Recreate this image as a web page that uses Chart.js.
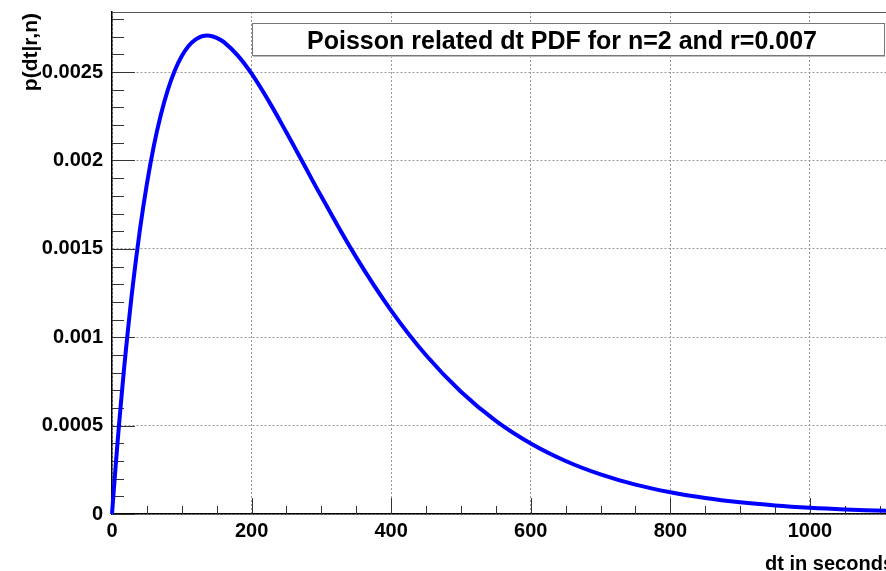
<!DOCTYPE html>
<html>
<head>
<meta charset="utf-8">
<script src="https://cdn.jsdelivr.net/npm/chart.js@4.4.0/dist/chart.umd.min.js"></script>
<style>
  html, body { margin: 0; padding: 0; background: #fff; }
  #wrap { width: 886px; height: 571px; }
</style>
</head>
<body>
<div id="wrap"><canvas id="pdfChart" width="886" height="571"></canvas></div>
<script>
    // values
    const dtSeconds = [0, 5, 10, 15, 20, 30, 40, 50, 60, 70, 80, 90, 100, 110, 120, 130, 140, 150, 160, 180, 200, 225, 250, 275, 300, 350, 400, 450, 500, 550, 600, 650, 700, 750, 800, 850, 900, 950, 1000, 1050, 1109];
    const pdfValues = [0, 0.00026, 0.000501, 0.000724, 0.000931, 0.001298, 0.001608, 0.001868, 0.002084, 0.002259, 0.002400, 0.002509, 0.002591, 0.002649, 0.002685, 0.002704, 0.002706, 0.002694, 0.002671, 0.002595, 0.002491, 0.002333, 0.002158, 0.001977, 0.001796, 0.001452, 0.001151, 0.000898, 0.000692, 0.000527, 0.000399, 0.000300, 0.000224, 0.000166, 0.000123, 0.0000906, 0.0000665, 0.0000487, 0.0000355, 0.0000259, 0.0000177];

    const xTickValues = [0, 200, 400, 600, 800, 1000];
    const xTickLabels = ['0', '200', '400', '600', '800', '1000'];
    const yTickValues = [0, 0.0005, 0.001, 0.0015, 0.002, 0.0025];
    const yTickLabels = ['0', '0.0005', '0.001', '0.0015', '0.002', '0.0025'];
    const xMinorStep = 50;
    const yMinorStep = 0.0001;
    const xMax = 1109;
    const yMax = 0.00284;

    const titleText = 'Poisson related dt PDF for n=2 and r=0.007';
    const xTitle = 'dt in seconds';
    const yTitle = 'p(dt|r,n)';

    const FONT = '"Liberation Sans", Arial, sans-serif';

    // ROOT-like frame: inner tick marks, top frame line, pave title, axis titles
    const rootDecor = {
      id: 'rootDecor',
      beforeDatasetsDraw(chart) {
        const { ctx, chartArea: a, scales: { x, y } } = chart;
        ctx.save();
        ctx.strokeStyle = '#333';
        ctx.lineWidth = 1;
        ctx.beginPath();
        for (let v = 0; v <= xMax; v += xMinorStep) {
          const px = Math.round(x.getPixelForValue(v)) + 0.5;
          const major = v % 200 === 0;
          ctx.moveTo(px, a.bottom);
          ctx.lineTo(px, a.bottom - (major ? 16 : 8));
        }
        for (let i = 0; i * yMinorStep <= yMax; i++) {
          const py = Math.round(y.getPixelForValue(i * yMinorStep)) + 0.5;
          const major = i % 5 === 0;
          ctx.moveTo(a.left, py);
          ctx.lineTo(a.left + (major ? 23 : 12), py);
        }
        ctx.stroke();
        ctx.strokeStyle = '#555';
        ctx.beginPath();
        ctx.moveTo(a.left, a.top + 0.5);
        ctx.lineTo(a.right, a.top + 0.5);
        ctx.stroke();
        ctx.restore();
      },
      afterDraw(chart) {
        const { ctx, chartArea: a } = chart;
        ctx.save();
        // title pave
        ctx.fillStyle = '#fff';
        ctx.fillRect(252, 23, 633, 32);
        ctx.strokeStyle = '#777';
        ctx.lineWidth = 1;
        ctx.strokeRect(252.5, 23.5, 632, 32);
        ctx.strokeStyle = '#bbb';
        ctx.beginPath();
        ctx.moveTo(253, 56.5);
        ctx.lineTo(885, 56.5);
        ctx.stroke();
        ctx.fillStyle = '#000';
        ctx.font = 'bold 25px ' + FONT;
        ctx.textAlign = 'center';
        ctx.textBaseline = 'alphabetic';
        ctx.fillText(titleText, 562, 49);
        // x title, right aligned past the frame edge
        ctx.font = 'bold 20px ' + FONT;
        ctx.textAlign = 'right';
        ctx.fillText(xTitle, a.right + 8, 570);
        // y title, rotated
        ctx.translate(37, 13);
        ctx.rotate(-Math.PI / 2);
        ctx.font = 'bold 21px ' + FONT;
        ctx.textAlign = 'right';
        ctx.fillText(yTitle, 0, 0);
        ctx.restore();
      }
    };

    new Chart(document.getElementById('pdfChart'), {
      type: 'line',
      data: {
        datasets: [{
          label: 'pdf',
          data: dtSeconds.map((t, i) => ({ x: t, y: pdfValues[i] })),
          borderColor: '#0000ff',
          borderWidth: 4,
          pointRadius: 0,
          tension: 0.4,
          fill: false,
          clip: false
        }]
      },
      options: {
        responsive: false,
        devicePixelRatio: 1,
        animation: false,
        layout: { padding: { top: 12, right: 0, bottom: 0, left: 0 } },
        plugins: { legend: { display: false }, tooltip: { enabled: false } },
        scales: {
          x: {
            type: 'linear',
            min: 0,
            max: xMax,
            afterBuildTicks: s => { s.ticks = xTickValues.map(v => ({ value: v })); },
            afterFit: s => { s.height = 57; s.paddingLeft = 0; s.paddingRight = 0; },
            ticks: {
              padding: 5,
              color: '#000',
              font: { family: FONT, size: 20, weight: 'bold' },
              callback: (v, i) => xTickLabels[i]
            },
            grid: { color: '#999', lineWidth: 1, drawTicks: false },
            border: { color: '#000', width: 1.5, dash: [2, 2] }
          },
          y: {
            type: 'linear',
            min: 0,
            max: yMax,
            afterBuildTicks: s => { s.ticks = yTickValues.map(v => ({ value: v })); },
            afterFit: s => { s.width = 112; s.paddingTop = 0; s.paddingBottom = 0; },
            ticks: {
              padding: 9,
              color: '#000',
              font: { family: FONT, size: 20, weight: 'bold' },
              callback: (v, i) => yTickLabels[i]
            },
            grid: { color: '#999', lineWidth: 1, drawTicks: false },
            border: { color: '#000', width: 1.5, dash: [2, 2] }
          }
        }
      },
      plugins: [rootDecor]
    });
</script>
</body>
</html>
